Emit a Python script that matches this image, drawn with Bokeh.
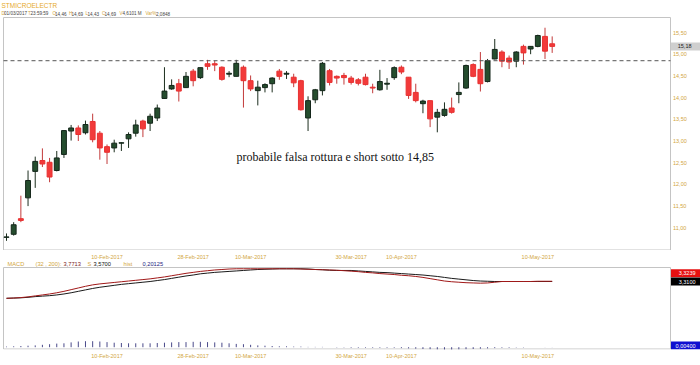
from bokeh.plotting import figure
from bokeh.models import Range1d, FixedTicker, Label, LinearAxis
from bokeh.core.properties import value
from bokeh.layouts import column
from bokeh.embed import file_html
from bokeh.resources import INLINE

# ---------------- data ----------------
opens = [10.78, 10.85, 11.21, 11.69, 12.30, 12.55, 12.51, 12.32, 12.69, 13.23,
         13.30, 13.19, 13.45, 13.18, 12.87, 12.84, 12.95, 13.05, 13.18, 13.46,
         13.41, 13.53, 13.98, 14.20, 14.32, 14.23, 14.61, 14.46, 14.78, 14.78,
         14.70, 14.54, 14.49, 14.70, 14.39, 14.16, 14.23, 14.32, 14.61, 14.54,
         14.47, 14.39, 13.53, 13.95, 14.16, 14.62, 14.49, 14.51, 14.45, 14.41,
         14.47, 14.24, 14.18, 14.31, 14.46, 14.70, 14.47, 14.12, 13.86, 13.93,
         13.55, 13.59, 13.76, 14.07, 14.22, 14.76, 14.65, 14.37, 14.89, 15.05,
         14.91, 14.84, 15.18, 15.12, 15.18, 15.41, 15.24]
highs = [10.87, 11.13, 11.74, 12.32, 12.64, 12.83, 12.61, 12.77, 13.25, 13.37,
         13.36, 13.47, 13.63, 13.23, 12.92, 13.03, 12.97, 13.20, 13.49, 13.49,
         13.63, 13.84, 14.70, 14.42, 14.43, 14.59, 14.66, 14.69, 14.87, 14.85,
         14.72, 14.61, 14.87, 14.74, 14.51, 14.39, 14.33, 14.47, 14.66, 14.61,
         14.55, 14.41, 14.03, 14.20, 14.82, 14.66, 14.51, 14.57, 14.50, 14.45,
         14.55, 14.32, 14.64, 14.45, 14.72, 14.74, 14.47, 14.32, 13.95, 13.93,
         13.74, 13.89, 14.00, 14.35, 14.76, 14.79, 15.05, 14.89, 15.35, 15.09,
         14.97, 15.07, 15.22, 15.18, 15.45, 15.61, 15.41]
lows = [10.70, 10.82, 11.13, 11.50, 11.92, 12.40, 12.05, 12.30, 12.61, 13.01,
        13.00, 13.15, 12.97, 12.57, 12.47, 12.74, 12.77, 12.84, 13.10, 13.09,
        13.23, 13.46, 13.97, 14.18, 13.91, 14.23, 14.26, 14.43, 14.64, 14.61,
        14.39, 14.47, 14.49, 13.77, 14.15, 13.82, 14.12, 14.12, 14.41, 14.43,
        14.24, 13.70, 13.23, 13.87, 14.05, 14.28, 14.32, 14.30, 14.30, 14.28,
        14.28, 14.10, 14.16, 14.18, 14.41, 14.54, 13.97, 13.89, 13.64, 13.32,
        13.20, 13.56, 13.63, 13.87, 14.20, 14.47, 14.14, 14.35, 14.88, 14.70,
        14.66, 14.70, 14.76, 15.00, 15.16, 14.89, 15.03]
closes = [10.79, 11.07, 11.17, 12.09, 12.53, 12.47, 12.17, 12.61, 13.24, 13.30,
          13.15, 13.38, 13.03, 12.84, 12.74, 12.95, 12.96, 13.15, 13.37, 13.28,
          13.57, 13.76, 14.15, 14.28, 14.15, 14.49, 14.39, 14.69, 14.72, 14.75,
          14.42, 14.56, 14.79, 14.39, 14.20, 14.24, 14.30, 14.45, 14.49, 14.56,
          14.34, 13.72, 13.93, 14.18, 14.79, 14.35, 14.45, 14.46, 14.35, 14.33,
          14.30, 14.22, 14.37, 14.33, 14.69, 14.59, 14.05, 13.93, 13.92, 13.51,
          13.66, 13.73, 13.66, 14.12, 14.74, 14.49, 14.32, 14.85, 15.11, 14.84,
          14.82, 15.05, 15.03, 15.18, 15.43, 15.07, 15.18]

macd_line = [2.61, 2.62, 2.64, 2.67, 2.71, 2.75, 2.79, 2.84, 2.90, 2.97,
             3.04, 3.11, 3.17, 3.21, 3.24, 3.27, 3.30, 3.33, 3.36, 3.39,
             3.42, 3.46, 3.50, 3.55, 3.60, 3.65, 3.69, 3.73, 3.76, 3.79,
             3.81, 3.83, 3.84, 3.84, 3.84, 3.84, 3.84, 3.84, 3.84, 3.84,
             3.84, 3.83, 3.82, 3.81, 3.80, 3.79, 3.78, 3.76, 3.74, 3.72,
             3.69, 3.67, 3.64, 3.62, 3.60, 3.57, 3.55, 3.52, 3.48, 3.43,
             3.38, 3.33, 3.30, 3.28, 3.26, 3.25, 3.24, 3.25, 3.28, 3.31,
             3.31, 3.31, 3.31, 3.31, 3.32, 3.32, 3.32]
signal_line = [2.61, 2.62, 2.63, 2.65, 2.68, 2.70, 2.72, 2.75, 2.79, 2.84,
               2.90, 2.96, 3.02, 3.07, 3.11, 3.15, 3.19, 3.22, 3.25, 3.28,
               3.31, 3.35, 3.39, 3.44, 3.49, 3.54, 3.58, 3.63, 3.66, 3.69,
               3.71, 3.73, 3.75, 3.77, 3.79, 3.81, 3.82, 3.83, 3.84, 3.84,
               3.84, 3.84, 3.83, 3.81, 3.80, 3.78, 3.77, 3.77, 3.77, 3.75,
               3.73, 3.71, 3.69, 3.68, 3.66, 3.64, 3.62, 3.60, 3.58, 3.55,
               3.52, 3.48, 3.44, 3.41, 3.38, 3.35, 3.33, 3.32, 3.31, 3.31,
               3.31, 3.31, 3.31, 3.31, 3.31, 3.31, 3.31]
hist = [0.02, 0.03, 0.04, 0.05, 0.06, 0.08, 0.10, 0.12, 0.13, 0.16,
        0.19, 0.20, 0.20, 0.19, 0.17, 0.15, 0.14, 0.13, 0.13, 0.13,
        0.13, 0.14, 0.15, 0.16, 0.17, 0.17, 0.18, 0.18, 0.17, 0.16,
        0.15, 0.13, 0.11, 0.10, 0.08, 0.06, 0.05, 0.04, 0.03, 0.03,
        0.02, 0.02, 0.01, 0.01, 0.01, 0.00, -0.01, -0.01, -0.02, -0.02,
        -0.02, -0.02, -0.02, -0.02, -0.02, -0.03, -0.04, -0.05, -0.06, -0.07,
        -0.08, -0.09, -0.09, -0.08, -0.07, -0.06, -0.05, -0.04, -0.03, -0.02,
        -0.02, -0.01, -0.01, 0.00, 0.00, 0.004, 0.004]

date_idx = [14, 26, 34, 48, 55, 74]
date_labels = ["10-Feb-2017", "28-Feb-2017", "10-Mar-2017", "30-Mar-2017",
               "10-Apr-2017", "10-May-2017"]
price_ticks = [11.0, 11.5, 12.0, 12.5, 13.0, 13.5, 14.0, 14.5, 15.0, 15.5]
price_tick_labels = ["11,00", "11,50", "12,00", "12,50", "13,00", "13,50",
                     "14,00", "14,50", "15,00", "15,50"]
level_price = 14.85
last_price = 15.18
last_macd, last_signal, last_hist = 3.3239, 3.3100, 0.00400
macd_box_levels = [3.656, 3.31, 0.643]
macd_box_texts = ["3,3239", "3,3100", "0,00400"]
macd_box_colors = ["#e61010", "#000000", "#1010d0"]

GOLD = "#d2a640"
DARK = "#444444"
FONT = "Liberation Sans"
GREEN = "#254d2e"
RED = "#f23a3a"
BORDER = "#c4c4c4"

n = len(opens)
xs = list(range(n))
up = [c >= o for o, c in zip(opens, closes)]
tops = [max(o, c) for o, c in zip(opens, closes)]
bots = [min(o, c) for o, c in zip(opens, closes)]
xs_up = [x for x, u in zip(xs, up) if u]
xs_dn = [x for x, u in zip(xs, up) if not u]

W = 700
STEP = 7.18          # pixels per candle in the panel


def rx(px):          # page pixel x -> candle index units
    return (px - 6) / STEP


PPU = 43.4           # pixels per price unit


def ry(py):          # page pixel y -> price units (price panel)
    return 15 - (py - 53.7) / PPU


MPU = 24.0           # pixels per MACD unit


def my(py):          # page pixel y -> MACD units
    return 3.31 + (281 - py) / MPU


def lab(fig, x, y, text, color, size="5px", align="left", font=FONT):
    fig.add_layout(Label(x=x, y=y, text=text, text_color=color, text_font=font,
                         text_font_size=size, text_align=align,
                         text_baseline="middle"))


def date_axis(ax, standoff):
    ax.ticker = FixedTicker(ticks=date_idx)
    ax.major_label_overrides = {i: t for i, t in zip(date_idx, date_labels)}
    ax.axis_line_color = None
    ax.major_tick_line_color = None
    ax.minor_tick_line_color = None
    ax.major_tick_out = 0
    ax.major_tick_in = 0
    ax.minor_tick_out = 0
    ax.minor_tick_in = 0
    ax.major_label_text_color = GOLD
    ax.major_label_text_font = FONT
    ax.major_label_text_font_size = "5.5px"
    ax.major_label_standoff = standoff


# ---------------- price panel (frame = whole top area) ----------------
p = figure(width=W, height=250, output_backend="svg", toolbar_location=None,
           x_range=Range1d(rx(0), rx(W)), y_range=Range1d(ry(250), ry(0)),
           x_axis_location=None, y_axis_location=None)
p.min_border = 0
p.outline_line_color = None
p.grid.visible = False

# panel border
p.quad(left=[rx(3)], right=[rx(670)], top=[ry(17)], bottom=[ry(249.5)],
       fill_color=None, line_color=BORDER, line_width=1)

# header
lab(p, rx(1), ry(4.5), "STMICROELECTR", "#e6aa2a", size="6.5px")
hdr = [(1, "D", GOLD), (3.5, "01/03/2017", DARK), (27.5, "T", GOLD),
       (30, "23:59:59", DARK), (52, "O", GOLD), (54.5, "14,46", DARK),
       (68.5, "H", GOLD), (71, "14,69", DARK), (85, "L", GOLD), (87, "14,43", DARK),
       (101.5, "C", GOLD), (104, "14,69", DARK), (119, "V", GOLD),
       (122, "4,6101 M", DARK), (145, "Var%", GOLD), (155.5, "2,0848", DARK)]
for hx, t, c in hdr:
    lab(p, rx(hx), ry(13), t, c, size="4.6px")

# price tick labels on the right
p.text(x=[rx(672.5)] * len(price_ticks), y=price_ticks, text=price_tick_labels,
       text_font=value(FONT), text_font_size="5.5px", text_color=GOLD,
       text_baseline="middle", text_align="left")

# candles
p.segment(x0=xs_up, x1=xs_up, y0=[lows[i] for i in xs_up], y1=[highs[i] for i in xs_up],
          line_color="#1c2e1e", line_width=1)
p.segment(x0=xs_dn, x1=xs_dn, y0=[lows[i] for i in xs_dn], y1=[highs[i] for i in xs_dn],
          line_color="#c23a3a", line_width=1)
p.vbar(x=xs_up, width=0.68, top=[tops[i] for i in xs_up], bottom=[bots[i] for i in xs_up],
       fill_color=GREEN, line_color="#14261a", line_width=1)
p.vbar(x=xs_dn, width=0.68, top=[tops[i] for i in xs_dn], bottom=[bots[i] for i in xs_dn],
       fill_color=RED, line_color="#e83030", line_width=1)

# dashed level
p.segment(x0=[rx(3)], x1=[rx(670)], y0=[level_price], y1=[level_price],
          line_color="#555555", line_dash="4 3", line_width=1)

lab(p, rx(236), ry(156.7), "probabile falsa rottura e short sotto 14,85", "#111111",
    size="12px", font="Liberation Serif")

# last price box
p.quad(left=[rx(670.5)], right=[rx(700)], top=[last_price + 4 / PPU],
       bottom=[last_price - 4 / PPU], fill_color="#cfcfcf", line_color=None)
lab(p, rx(691), last_price, "15,18", "#222222", size="5.5px", align="right")

# ---------------- MACD panel (frame includes legend row) ----------------
q = figure(width=W, height=115, output_backend="svg", toolbar_location=None,
           x_range=p.x_range, y_range=Range1d(my(349), my(260)),
           y_axis_location=None)
q.min_border_left = 0
q.min_border_right = 0
q.min_border_top = 10
q.min_border_bottom = 16
q.outline_line_color = None
q.grid.visible = False
q.extra_y_ranges = {"hist": Range1d(-(349 - 346.7) / 30.0, (346.7 - 260) / 30.0)}
date_axis(q.xaxis[0], 3)
top_axis = LinearAxis()
date_axis(top_axis, 1)
q.add_layout(top_axis, "above")

q.quad(left=[rx(3)], right=[rx(670)], top=[my(267)], bottom=[my(348.5)],
       fill_color=None, line_color=BORDER, line_width=1)

leg = [(7, "MACD", GOLD), (35, "(32 , 200):", GOLD), (63, "3,7713", "#7a1c1c"),
       (87, "S", GOLD), (93, "3,5700", "#111111"), (123, "hist", GOLD),
       (142, "0,20125", "#1c1c80")]
for lx, t, c in leg:
    lab(q, rx(lx), my(263), t, c, size="5.7px")

q.segment(x0=xs, x1=xs, y0=[0] * n, y1=hist, y_range_name="hist",
          line_color="#4a4a8a", line_width=1)
q.line(xs, signal_line, line_color="#1a1a1a", line_width=1)
q.line(xs, macd_line, line_color="#a01818", line_width=1)

q.quad(left=[rx(670.5)] * 3, right=[rx(700)] * 3,
       top=[v + 4 / MPU for v in macd_box_levels],
       bottom=[v - 4 / MPU for v in macd_box_levels],
       fill_color=macd_box_colors, line_color=None)
for v, t in zip(macd_box_levels, macd_box_texts):
    lab(q, rx(695), v, t, "white", size="5.5px", align="right")

layout = column(p, q)
open("out.html", "w").write(file_html(layout, INLINE))
